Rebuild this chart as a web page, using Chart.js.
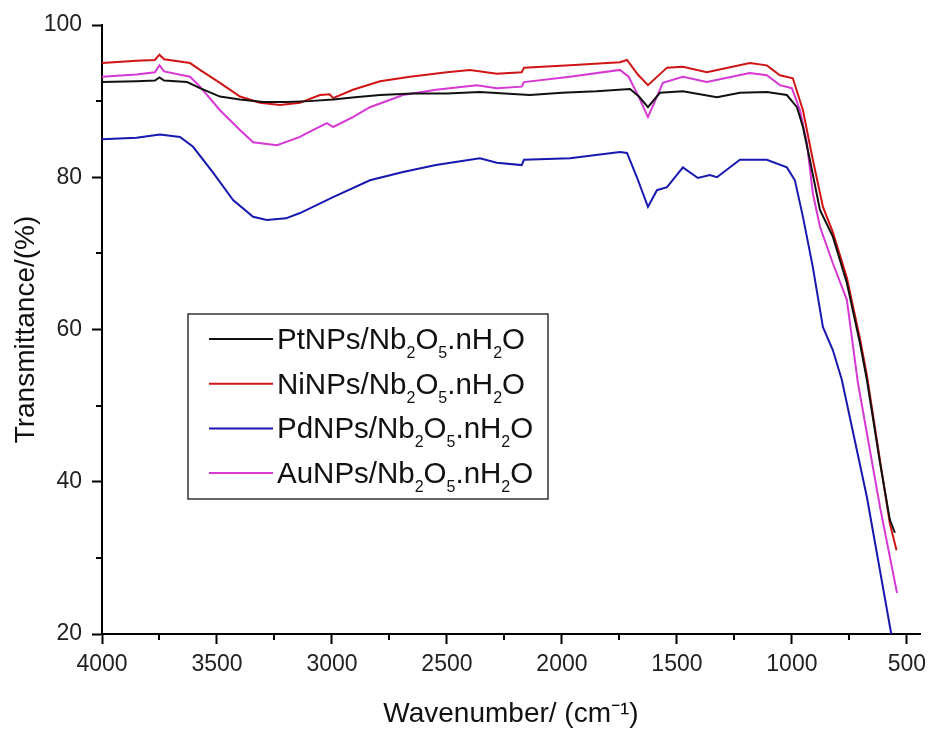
<!DOCTYPE html>
<html>
<head>
<meta charset="utf-8">
<title>FTIR spectra</title>
<script src="https://cdn.jsdelivr.net/npm/chart.js@4.4.1/dist/chart.umd.min.js"></script>
<style>
    html, body { margin: 0; padding: 0; background: #fff; }
    #wrap { width: 930px; height: 731px; }
</style>
</head>
<body>
<div id="wrap"><canvas id="ftir"></canvas></div>
<script>
// series labels (subscripts kept as unicode, drawn smaller in the legend)
const seriesLabels = ['PtNPs/Nb₂O₅.nH₂O', 'NiNPs/Nb₂O₅.nH₂O', 'PdNPs/Nb₂O₅.nH₂O', 'AuNPs/Nb₂O₅.nH₂O'];
const seriesColors = ['#111111', '#d01414', '#1818b0', '#d538d5'];

// axis ticks
const xMajorTicks = [4000, 3500, 3000, 2500, 2000, 1500, 1000, 500];
const xMinorTicks = [3750, 3250, 2750, 2250, 1750, 1250, 750];
const yMajorTicks = [20, 40, 60, 80, 100];
const yMinorTicks = [30, 50, 70, 90];

// PtNPs (black)
const ptWave = [4000, 3850, 3770, 3750, 3730, 3630, 3574, 3487, 3400, 3300, 3200, 3100, 2995, 2900, 2791, 2650, 2500, 2357, 2250, 2140, 2000, 1850, 1704, 1665, 1626, 1574, 1474, 1400, 1326, 1226, 1109, 1022, 978, 952, 922, 878, 822, 761, 704, 674, 617, 574, 552];
const ptT = [92.5, 92.6, 92.7, 93.1, 92.7, 92.5, 91.7, 90.6, 90.2, 89.9, 89.9, 90.0, 90.2, 90.5, 90.8, 91.0, 91.0, 91.2, 91.0, 90.8, 91.1, 91.3, 91.6, 90.6, 89.2, 91.1, 91.3, 90.9, 90.5, 91.1, 91.2, 90.8, 89.2, 86.6, 82.3, 75.7, 72.2, 66.1, 58.2, 53.4, 42.5, 35.0, 33.3];

// NiNPs (red)
const niWave = [4000, 3850, 3770, 3750, 3730, 3617, 3574, 3487, 3400, 3313, 3226, 3139, 3052, 3010, 2995, 2909, 2791, 2661, 2500, 2400, 2283, 2175, 2165, 1965, 1748, 1717, 1670, 1626, 1543, 1474, 1370, 1183, 1109, 1052, 996, 952, 909, 865, 822, 761, 704, 674, 617, 574, 545];
const niT = [95.0, 95.3, 95.4, 96.1, 95.5, 95.0, 94.1, 92.4, 90.6, 89.8, 89.5, 89.8, 90.8, 90.9, 90.4, 91.5, 92.6, 93.2, 93.8, 94.1, 93.6, 93.8, 94.4, 94.7, 95.1, 95.4, 93.5, 92.1, 94.4, 94.5, 93.8, 95.0, 94.7, 93.4, 93.0, 88.8, 82.3, 76.1, 72.8, 66.8, 58.8, 54.0, 42.8, 34.5, 31.0];

// PdNPs (blue)
const pdWave = [4000, 3850, 3748, 3661, 3604, 3517, 3430, 3343, 3283, 3200, 3139, 2995, 2835, 2691, 2548, 2357, 2283, 2175, 2165, 1965, 1748, 1717, 1674, 1626, 1587, 1543, 1474, 1409, 1357, 1326, 1226, 1109, 1022, 987, 952, 909, 865, 822, 783, 674, 568];
const pdT = [85.0, 85.2, 85.6, 85.3, 84.0, 80.6, 77.0, 74.8, 74.4, 74.6, 75.3, 77.4, 79.6, 80.7, 81.6, 82.5, 81.9, 81.6, 82.3, 82.5, 83.3, 83.2, 80.0, 76.1, 78.3, 78.7, 81.3, 79.9, 80.3, 80.0, 82.3, 82.3, 81.3, 79.6, 74.8, 68.2, 60.3, 57.3, 53.4, 38.0, 20.0];

// AuNPs (magenta)
const auWave = [4000, 3850, 3770, 3750, 3730, 3617, 3574, 3487, 3400, 3343, 3239, 3139, 3109, 3022, 2995, 2909, 2835, 2691, 2548, 2370, 2283, 2175, 2165, 1965, 1748, 1710, 1665, 1626, 1561, 1474, 1370, 1183, 1109, 1052, 1000, 965, 935, 909, 878, 822, 761, 713, 617, 543];
const auT = [93.2, 93.5, 93.8, 94.7, 93.9, 93.2, 91.9, 88.8, 86.2, 84.6, 84.2, 85.3, 85.8, 87.1, 86.6, 87.9, 89.2, 90.8, 91.5, 92.1, 91.7, 91.9, 92.5, 93.2, 94.1, 93.2, 90.5, 87.9, 92.4, 93.2, 92.5, 93.7, 93.4, 92.1, 91.7, 88.8, 84.5, 77.9, 73.5, 68.7, 63.9, 53.0, 36.7, 25.4];

const seriesWaves = [ptWave, niWave, pdWave, auWave];
const seriesValues = [ptT, niT, pdT, auT];

function toPoints(xs, ys) {
    return xs.map((x, i) => ({ x: x, y: ys[i] }));
}

// minor tick marks on both axes
const minorTicksPlugin = {
    id: 'minorTicks',
    afterDraw(chart) {
        const ctx = chart.ctx;
        const xs = chart.scales.x;
        const ys = chart.scales.y;
        const area = chart.chartArea;
        ctx.save();
        ctx.strokeStyle = '#000';
        ctx.lineWidth = 2;
        ctx.beginPath();
        xMinorTicks.forEach(v => {
            const px = Math.round(xs.getPixelForValue(v));
            ctx.moveTo(px, area.bottom);
            ctx.lineTo(px, area.bottom + 6);
        });
        yMinorTicks.forEach(v => {
            const py = Math.round(ys.getPixelForValue(v));
            ctx.moveTo(area.left, py);
            ctx.lineTo(area.left - 6, py);
        });
        ctx.stroke();
        ctx.restore();
    }
};

// boxed legend with subscripts
const subMap = { '₀': '0', '₁': '1', '₂': '2', '₃': '3', '₄': '4', '₅': '5' };
const boxLegendPlugin = {
    id: 'boxLegend',
    afterDraw(chart) {
        const ctx = chart.ctx;
        const box = { left: 188, top: 314, right: 548, bottom: 499 };
        ctx.save();
        ctx.fillStyle = '#fff';
        ctx.fillRect(box.left, box.top, box.right - box.left, box.bottom - box.top);
        ctx.strokeStyle = '#333';
        ctx.lineWidth = 1.5;
        ctx.strokeRect(box.left, box.top, box.right - box.left, box.bottom - box.top);

        chart.data.datasets.forEach((ds, i) => {
            const y = 339 + i * 44.7;
            ctx.strokeStyle = ds.borderColor;
            ctx.lineWidth = 2;
            ctx.beginPath();
            ctx.moveTo(209, y);
            ctx.lineTo(273, y);
            ctx.stroke();

            let x = 277;
            const base = y + 10;
            ctx.fillStyle = '#111';
            ctx.textBaseline = 'alphabetic';
            for (const ch of ds.label) {
                if (subMap[ch]) {
                    ctx.font = '16px "Liberation Sans", Arial, sans-serif';
                    ctx.fillText(subMap[ch], x, base + 9);
                    x += ctx.measureText(subMap[ch]).width;
                } else {
                    ctx.font = '29.5px "Liberation Sans", Arial, sans-serif';
                    ctx.fillText(ch, x, base);
                    x += ctx.measureText(ch).width;
                }
            }
        });
        ctx.restore();
    }
};

const datasets = seriesLabels.map((label, i) => ({
    label: label,
    data: toPoints(seriesWaves[i], seriesValues[i]),
    borderColor: seriesColors[i],
    backgroundColor: seriesColors[i],
    borderWidth: 2,
    pointRadius: 0,
    tension: 0,
    fill: false
}));

new Chart(document.getElementById('ftir'), {
    type: 'line',
    data: { datasets: datasets },
    options: {
        responsive: true,
        maintainAspectRatio: false,
        animation: false,
        layout: { padding: { top: 25, right: 10, left: 0, bottom: 0 } },
        plugins: {
            legend: { display: false },
            tooltip: { enabled: false }
        },
        scales: {
            x: {
                type: 'linear',
                reverse: true,
                min: 443,
                max: 4000,
                afterBuildTicks: scale => {
                    scale.ticks = xMajorTicks.map(v => ({ value: v }));
                },
                afterFit: scale => {
                    scale.height = 97;
                    scale.paddingLeft = 0;
                    scale.paddingRight = 0;
                },
                grid: { drawOnChartArea: false, drawTicks: true, tickLength: 10, tickWidth: 2, tickColor: '#000' },
                border: { color: '#000', width: 2 },
                ticks: {
                    color: '#222',
                    padding: 7,
                    maxRotation: 0,
                    callback: value => String(value),
                    font: { family: '"Liberation Sans", Arial, sans-serif', size: 23 }
                },
                title: {
                    display: true,
                    text: 'Wavenumber/ (cm⁻¹)',
                    color: '#111',
                    padding: { top: 0, bottom: 0 },
                    font: { family: '"Liberation Sans", Arial, sans-serif', size: 28 }
                }
            },
            y: {
                min: 20,
                max: 100,
                afterBuildTicks: scale => {
                    scale.ticks = yMajorTicks.map(v => ({ value: v }));
                },
                afterFit: scale => {
                    scale.width = 102;
                    scale.paddingTop = 0;
                    scale.paddingBottom = 0;
                },
                grid: { drawOnChartArea: false, drawTicks: true, tickLength: 10, tickWidth: 2, tickColor: '#000' },
                border: { color: '#000', width: 2 },
                ticks: {
                    color: '#222',
                    padding: 10,
                    callback: value => String(value),
                    font: { family: '"Liberation Sans", Arial, sans-serif', size: 23 }
                },
                title: {
                    display: true,
                    text: 'Transmittance/(%)',
                    color: '#111',
                    padding: { top: 9, bottom: 0 },
                    font: { family: '"Liberation Sans", Arial, sans-serif', size: 28 }
                }
            }
        }
    },
    plugins: [minorTicksPlugin, boxLegendPlugin]
});
</script>
</body>
</html>
